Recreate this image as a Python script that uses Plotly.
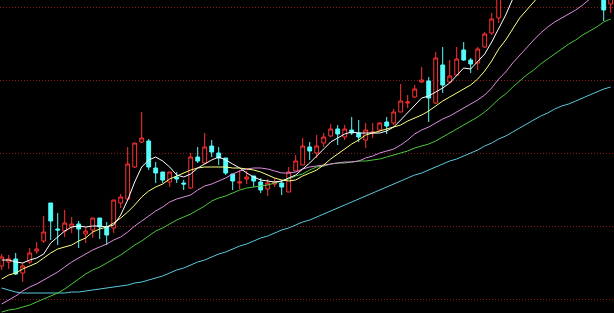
import plotly.graph_objects as go

days = list(range(88))

open_ = [7.34, 7.38, 7.41, 7.27, 7.38, 7.49, 7.59, 7.97, 7.71, 7.69,
         7.73, 7.76, 7.66, 7.70, 7.82, 7.73, 7.72, 7.97, 8.01, 8.33,
         8.58, 8.59, 8.32, 8.28, 8.18, 8.23, 8.17, 8.12, 8.43, 8.37,
         8.54, 8.47, 8.42, 8.26, 8.17, 8.21, 8.24, 8.18, 8.11, 8.16,
         8.17, 8.08, 8.29, 8.35, 8.53, 8.47, 8.57, 8.64, 8.71, 8.63,
         8.70, 8.67, 8.60, 8.67, 8.70, 8.78, 8.77, 8.88, 8.97, 9.03,
         9.18, 9.19, 8.97, 9.35, 9.18, 9.25, 9.50, 9.40, 9.37, 9.53,
         9.67, 9.82, 10.05, 10.24, 10.33, 10.42, 10.25, 10.18, 10.27, 10.14,
         10.24, 10.11, 10.17, 10.26, 10.13, 10.21, 10.28, 9.96]
close = [7.43, 7.41, 7.26, 7.34, 7.47, 7.51, 7.68, 7.79, 7.70, 7.77,
         7.76, 7.71, 7.69, 7.82, 7.73, 7.65, 8.00, 8.03, 8.36, 8.57,
         8.62, 8.33, 8.27, 8.20, 8.28, 8.21, 8.16, 8.43, 8.39, 8.53,
         8.48, 8.42, 8.27, 8.19, 8.18, 8.23, 8.19, 8.10, 8.17, 8.18,
         8.13, 8.28, 8.39, 8.54, 8.49, 8.54, 8.63, 8.71, 8.66, 8.71,
         8.67, 8.63, 8.70, 8.68, 8.77, 8.74, 8.88, 8.99, 8.98, 9.11,
         9.20, 9.02, 9.42, 9.15, 9.24, 9.41, 9.40, 9.36, 9.51, 9.66,
         9.81, 10.03, 10.22, 10.35, 10.45, 10.21, 10.20, 10.28, 10.15, 10.22,
         10.12, 10.18, 10.25, 10.14, 10.20, 10.30, 9.90, 10.18]
high = [7.46, 7.45, 7.47, 7.37, 7.52, 7.58, 7.84, 7.97, 7.87, 7.90,
        7.83, 7.79, 7.73, 7.82, 7.82, 7.78, 8.00, 8.06, 8.53, 8.57,
        8.88, 8.61, 8.38, 8.28, 8.28, 8.28, 8.20, 8.47, 8.53, 8.67,
        8.60, 8.53, 8.42, 8.26, 8.30, 8.29, 8.24, 8.22, 8.21, 8.22,
        8.20, 8.33, 8.45, 8.62, 8.58, 8.65, 8.67, 8.76, 8.75, 8.75,
        8.83, 8.80, 8.77, 8.77, 8.78, 8.83, 8.91, 9.16, 9.05, 9.15,
        9.33, 9.23, 9.48, 9.53, 9.40, 9.53, 9.58, 9.42, 9.53, 9.68,
        9.87, 10.08, 10.30, 10.42, 10.52, 10.48, 10.32, 10.35, 10.31, 10.28,
        10.27, 10.24, 10.31, 10.29, 10.26, 10.36, 10.33, 10.24]
low = [7.30, 7.31, 7.25, 7.18, 7.36, 7.46, 7.57, 7.60, 7.55, 7.63,
       7.67, 7.52, 7.57, 7.62, 7.61, 7.55, 7.67, 7.92, 8.00, 8.32,
       8.57, 8.30, 8.17, 8.17, 8.13, 8.17, 8.10, 8.11, 8.37, 8.36,
       8.43, 8.35, 8.25, 8.10, 8.11, 8.16, 8.13, 8.07, 8.04, 8.13,
       8.05, 8.08, 8.29, 8.35, 8.40, 8.42, 8.53, 8.63, 8.55, 8.60,
       8.65, 8.58, 8.52, 8.62, 8.69, 8.66, 8.75, 8.88, 8.92, 9.02,
       9.17, 8.78, 8.96, 9.07, 9.17, 9.24, 9.39, 9.27, 9.30, 9.52,
       9.65, 9.77, 10.06, 10.18, 10.28, 10.15, 10.12, 10.14, 10.10, 10.09,
       10.08, 10.07, 10.12, 10.09, 10.08, 10.15, 9.79, 9.87]

ma5 = [7.40, 7.40, 7.38, 7.37, 7.40, 7.42, 7.46, 7.57, 7.63, 7.69,
       7.73, 7.74, 7.73, 7.74, 7.74, 7.73, 7.75, 7.85, 8.00, 8.18,
       8.33, 8.40, 8.43, 8.39, 8.33, 8.25, 8.23, 8.26, 8.32, 8.36,
       8.40, 8.43, 8.40, 8.36, 8.32, 8.27, 8.23, 8.20, 8.19, 8.18,
       8.19, 8.22, 8.25, 8.31, 8.37, 8.44, 8.51, 8.58, 8.62, 8.66,
       8.68, 8.67, 8.67, 8.67, 8.67, 8.69, 8.73, 8.80, 8.87, 8.95,
       9.02, 9.04, 9.08, 9.12, 9.17, 9.24, 9.32, 9.31, 9.39, 9.46,
       9.58, 9.72, 9.85, 10.01, 10.17, 10.25, 10.29, 10.30, 10.26, 10.21,
       10.19, 10.19, 10.18, 10.18, 10.18, 10.21, 10.16, 10.14]
ma10 = [7.21, 7.25, 7.27, 7.31, 7.34, 7.37, 7.42, 7.47, 7.51, 7.53,
        7.55, 7.59, 7.62, 7.68, 7.71, 7.73, 7.77, 7.82, 7.88, 7.95,
        8.03, 8.09, 8.13, 8.16, 8.21, 8.24, 8.27, 8.30, 8.32, 8.33,
        8.33, 8.33, 8.33, 8.32, 8.32, 8.31, 8.30, 8.28, 8.25, 8.22,
        8.20, 8.19, 8.20, 8.24, 8.27, 8.30, 8.35, 8.41, 8.46, 8.51,
        8.56, 8.60, 8.65, 8.67, 8.69, 8.71, 8.73, 8.75, 8.79, 8.82,
        8.85, 8.89, 8.94, 8.99, 9.03, 9.07, 9.11, 9.15, 9.21, 9.29,
        9.39, 9.51, 9.60, 9.71, 9.82, 9.90, 9.98, 10.07, 10.14, 10.19,
        10.22, 10.24, 10.24, 10.22, 10.20, 10.20, 10.17, 10.16]
ma20 = [6.96, 7.00, 7.04, 7.09, 7.13, 7.16, 7.20, 7.24, 7.28, 7.33,
        7.38, 7.42, 7.46, 7.50, 7.53, 7.56, 7.60, 7.63, 7.68, 7.74,
        7.79, 7.84, 7.89, 7.93, 7.98, 8.01, 8.03, 8.05, 8.10, 8.14,
        8.16, 8.19, 8.22, 8.26, 8.29, 8.31, 8.32, 8.32, 8.31, 8.29,
        8.27, 8.27, 8.28, 8.31, 8.33, 8.34, 8.35, 8.36, 8.37, 8.38,
        8.38, 8.39, 8.42, 8.44, 8.47, 8.49, 8.51, 8.55, 8.60, 8.66,
        8.70, 8.73, 8.77, 8.81, 8.84, 8.88, 8.92, 8.96, 9.00, 9.05,
        9.12, 9.21, 9.28, 9.37, 9.45, 9.52, 9.60, 9.67, 9.73, 9.78,
        9.82, 9.86, 9.90, 9.95, 10.01, 10.05, 10.08, 10.12]
ma30 = [6.88, 6.90, 6.91, 6.93, 6.95, 6.98, 7.01, 7.04, 7.07, 7.11,
        7.16, 7.21, 7.26, 7.30, 7.33, 7.37, 7.41, 7.45, 7.50, 7.55,
        7.59, 7.64, 7.69, 7.72, 7.76, 7.80, 7.83, 7.86, 7.90, 7.94,
        7.99, 8.02, 8.04, 8.07, 8.10, 8.12, 8.13, 8.14, 8.15, 8.17,
        8.19, 8.21, 8.24, 8.26, 8.30, 8.33, 8.34, 8.36, 8.37, 8.37,
        8.38, 8.39, 8.39, 8.40, 8.41, 8.43, 8.45, 8.47, 8.49, 8.52,
        8.54, 8.56, 8.59, 8.63, 8.67, 8.71, 8.75, 8.79, 8.83, 8.88,
        8.94, 9.01, 9.06, 9.13, 9.19, 9.25, 9.30, 9.36, 9.41, 9.46,
        9.51, 9.56, 9.60, 9.65, 9.69, 9.73, 9.78, 9.81]
ma60 = [7.12, 7.10, 7.08, 7.07, 7.07, 7.07, 7.07, 7.07, 7.07, 7.07,
        7.08, 7.08, 7.09, 7.10, 7.11, 7.12, 7.13, 7.14, 7.15, 7.17,
        7.18, 7.20, 7.22, 7.24, 7.27, 7.30, 7.32, 7.35, 7.38, 7.40,
        7.43, 7.46, 7.48, 7.51, 7.54, 7.56, 7.59, 7.62, 7.64, 7.67,
        7.70, 7.72, 7.75, 7.78, 7.80, 7.83, 7.86, 7.89, 7.92, 7.95,
        7.98, 8.01, 8.04, 8.07, 8.10, 8.13, 8.16, 8.19, 8.22, 8.25,
        8.27, 8.30, 8.33, 8.36, 8.39, 8.41, 8.44, 8.47, 8.50, 8.54,
        8.57, 8.61, 8.64, 8.68, 8.72, 8.76, 8.80, 8.84, 8.87, 8.91,
        8.94, 8.96, 8.99, 9.02, 9.05, 9.08, 9.11, 9.13]

grid_levels = [7.01, 7.74, 8.47, 9.20, 9.93]

RED = "#FF3232"
CYAN = "#54FCFC"

fig = go.Figure()
fig.add_trace(go.Candlestick(
    x=days, open=open_, high=high, low=low, close=close,
    increasing=dict(line=dict(color=RED, width=1), fillcolor="#000000"),
    decreasing=dict(line=dict(color=CYAN, width=1), fillcolor=CYAN),
    whiskerwidth=0, hoverinfo="skip", showlegend=False,
))

lines = [
    (ma60, "#5AC8DC"),
    (ma30, "#4CC83C"),
    (ma20, "#E08CE0"),
    (ma10, "#FFFF80"),
    (ma5, "#FFFFFF"),
]
for vals, col in lines:
    fig.add_trace(go.Scatter(x=days, y=vals, mode="lines",
                             line=dict(color=col, width=1),
                             hoverinfo="skip", showlegend=False))

fig.update_layout(
    width=614, height=313,
    margin=dict(l=0, r=0, t=0, b=0),
    paper_bgcolor="#000000", plot_bgcolor="#000000",
    showlegend=False,
    boxgap=0.22,
    xaxis=dict(range=[-0.243, 87.471], visible=False,
               rangeslider=dict(visible=False), fixedrange=True),
    yaxis=dict(range=[6.87, 10.00], tickvals=grid_levels,
               showticklabels=False, showgrid=True,
               gridcolor="#8A1A1A", griddash="1px,2px", gridwidth=1,
               zeroline=False, showline=False, ticks="", fixedrange=True),
)

fig.write_html("out.html")
